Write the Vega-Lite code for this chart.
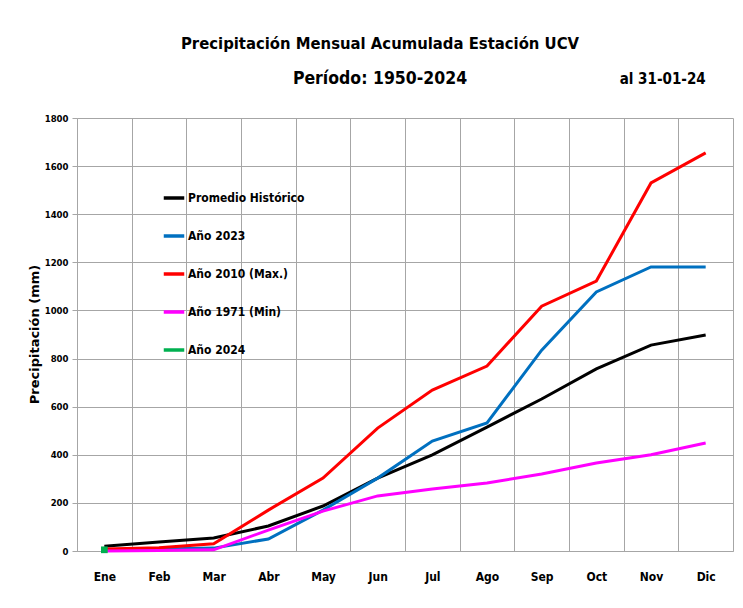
{
  "$schema": "https://vega.github.io/schema/vega-lite/v6.json",
  "width": 656,
  "height": 433,
  "autosize": {"type": "none"},
  "padding": {"left": 77, "top": 118, "right": 10, "bottom": 57},
  "background": "white",
  "title": {
    "text": "Precipitación Mensual Acumulada Estación UCV",
    "subtitle": "Período:  1950-2024",
    "font": "DejaVu Sans Condensed",
    "fontSize": 16.5,
    "fontWeight": "bold",
    "color": "black",
    "subtitleFont": "DejaVu Sans Condensed",
    "subtitleFontSize": 17.5,
    "subtitleFontWeight": "bold",
    "subtitleColor": "black",
    "subtitlePadding": 17,
    "anchor": "middle",
    "dx": -25,
    "offset": -15
  },
  "datasets": {
    "series": [
      {"mes": "Ene", "serie": "Promedio Histórico", "valor": 20},
      {"mes": "Feb", "serie": "Promedio Histórico", "valor": 37},
      {"mes": "Mar", "serie": "Promedio Histórico", "valor": 54},
      {"mes": "Abr", "serie": "Promedio Histórico", "valor": 104},
      {"mes": "May", "serie": "Promedio Histórico", "valor": 187},
      {"mes": "Jun", "serie": "Promedio Histórico", "valor": 303},
      {"mes": "Jul", "serie": "Promedio Histórico", "valor": 400},
      {"mes": "Ago", "serie": "Promedio Histórico", "valor": 515},
      {"mes": "Sep", "serie": "Promedio Histórico", "valor": 632},
      {"mes": "Oct", "serie": "Promedio Histórico", "valor": 757},
      {"mes": "Nov", "serie": "Promedio Histórico", "valor": 856},
      {"mes": "Dic", "serie": "Promedio Histórico", "valor": 898},
      {"mes": "Ene", "serie": "Año 2023", "valor": 5},
      {"mes": "Feb", "serie": "Año 2023", "valor": 8},
      {"mes": "Mar", "serie": "Año 2023", "valor": 12},
      {"mes": "Abr", "serie": "Año 2023", "valor": 50},
      {"mes": "May", "serie": "Año 2023", "valor": 170},
      {"mes": "Jun", "serie": "Año 2023", "valor": 303},
      {"mes": "Jul", "serie": "Año 2023", "valor": 457},
      {"mes": "Ago", "serie": "Año 2023", "valor": 532},
      {"mes": "Sep", "serie": "Año 2023", "valor": 835},
      {"mes": "Oct", "serie": "Año 2023", "valor": 1077},
      {"mes": "Nov", "serie": "Año 2023", "valor": 1181},
      {"mes": "Dic", "serie": "Año 2023", "valor": 1181},
      {"mes": "Ene", "serie": "Año 2010 (Max.)", "valor": 8},
      {"mes": "Feb", "serie": "Año 2010 (Max.)", "valor": 14},
      {"mes": "Mar", "serie": "Año 2010 (Max.)", "valor": 30},
      {"mes": "Abr", "serie": "Año 2010 (Max.)", "valor": 170},
      {"mes": "May", "serie": "Año 2010 (Max.)", "valor": 303},
      {"mes": "Jun", "serie": "Año 2010 (Max.)", "valor": 511},
      {"mes": "Jul", "serie": "Año 2010 (Max.)", "valor": 669},
      {"mes": "Ago", "serie": "Año 2010 (Max.)", "valor": 769},
      {"mes": "Sep", "serie": "Año 2010 (Max.)", "valor": 1018},
      {"mes": "Oct", "serie": "Año 2010 (Max.)", "valor": 1122},
      {"mes": "Nov", "serie": "Año 2010 (Max.)", "valor": 1530},
      {"mes": "Dic", "serie": "Año 2010 (Max.)", "valor": 1655},
      {"mes": "Ene", "serie": "Año 1971 (Min)", "valor": 0},
      {"mes": "Feb", "serie": "Año 1971 (Min)", "valor": 2},
      {"mes": "Mar", "serie": "Año 1971 (Min)", "valor": 5},
      {"mes": "Abr", "serie": "Año 1971 (Min)", "valor": 87},
      {"mes": "May", "serie": "Año 1971 (Min)", "valor": 166},
      {"mes": "Jun", "serie": "Año 1971 (Min)", "valor": 229},
      {"mes": "Jul", "serie": "Año 1971 (Min)", "valor": 258},
      {"mes": "Ago", "serie": "Año 1971 (Min)", "valor": 283},
      {"mes": "Sep", "serie": "Año 1971 (Min)", "valor": 320},
      {"mes": "Oct", "serie": "Año 1971 (Min)", "valor": 366},
      {"mes": "Nov", "serie": "Año 1971 (Min)", "valor": 400},
      {"mes": "Dic", "serie": "Año 1971 (Min)", "valor": 449},
      {"mes": "Ene", "serie": "Año 2024", "valor": 5}
    ],
    "nota": [
      {"mes": "Dic", "valor": 1940, "texto": "al 31-01-24"}
    ]
  },
  "config": {
    "view": {"stroke": null},
    "axis": {
      "labelFont": "DejaVu Sans Condensed",
      "labelFontWeight": "bold",
      "labelColor": "black",
      "gridColor": "#a6a6a6",
      "gridWidth": 1,
      "gridOpacity": 1,
      "domainColor": "#a6a6a6",
      "tickColor": "#a6a6a6"
    }
  },
  "layer": [
    {
      "data": {"name": "series"},
      "mark": {"type": "line", "strokeWidth": 3, "clip": false},
      "encoding": {
        "x": {
          "field": "mes",
          "type": "ordinal",
          "sort": ["Ene", "Feb", "Mar", "Abr", "May", "Jun", "Jul", "Ago", "Sep", "Oct", "Nov", "Dic"],
          "scale": {"type": "band", "paddingInner": 0, "paddingOuter": 0},
          "bandPosition": 0.5,
          "axis": {
            "title": null,
            "labelAngle": 0,
            "labelFontSize": 12,
            "labelPadding": 20,
            "tickBand": "extent",
            "ticks": false,
            "grid": true
          }
        },
        "y": {
          "field": "valor",
          "type": "quantitative",
          "scale": {"domain": [0, 1800], "nice": false, "zero": true},
          "axis": {
            "title": "Precipitación (mm)",
            "titleFont": "DejaVu Sans",
            "titleFontSize": 13,
            "titleFontWeight": "bold",
            "titleColor": "black",
            "titleX": -43,
            "titleY": 216,
            "titleBaseline": "middle",
            "titleAlign": "center",
            "titleAngle": -90,
            "values": [0, 200, 400, 600, 800, 1000, 1200, 1400, 1600, 1800],
            "format": "d",
            "labelFontSize": 9.5,
            "labelPadding": 4,
            "tickSize": 5,
            "grid": true
          }
        },
        "color": {
          "field": "serie",
          "type": "nominal",
          "scale": {
            "domain": ["Promedio Histórico", "Año 2023", "Año 2010 (Max.)", "Año 1971 (Min)", "Año 2024"],
            "range": ["#000000", "#0070C0", "#FF0000", "#FF00FF", "#00B050"]
          },
          "legend": {
            "title": null,
            "orient": "none",
            "legendX": 85,
            "legendY": 68,
            "symbolType": "stroke",
            "symbolStrokeWidth": 3.5,
            "symbolSize": 420,
            "labelFont": "DejaVu Sans Condensed",
            "labelFontWeight": "bold",
            "labelFontSize": 12,
            "labelColor": "black",
            "labelOffset": 2,
            "rowPadding": 19
          }
        }
      }
    },
    {
      "data": {"name": "series"},
      "transform": [{"filter": "datum.serie === 'Año 2024'"}],
      "mark": {"type": "point", "shape": "square", "filled": true, "size": 45, "color": "#00B050", "opacity": 1, "clip": false},
      "encoding": {
        "x": {"field": "mes", "type": "ordinal", "sort": ["Ene", "Feb", "Mar", "Abr", "May", "Jun", "Jul", "Ago", "Sep", "Oct", "Nov", "Dic"], "bandPosition": 0.5},
        "y": {"field": "valor", "type": "quantitative"}
      }
    },
    {
      "data": {"name": "nota"},
      "mark": {"type": "text", "align": "right", "baseline": "alphabetic", "font": "DejaVu Sans Condensed", "fontSize": 15, "fontWeight": "bold", "color": "black", "clip": false},
      "encoding": {
        "x": {"field": "mes", "type": "ordinal", "sort": ["Ene", "Feb", "Mar", "Abr", "May", "Jun", "Jul", "Ago", "Sep", "Oct", "Nov", "Dic"], "bandPosition": 0.5},
        "y": {"field": "valor", "type": "quantitative"},
        "text": {"field": "texto", "type": "nominal"}
      }
    }
  ]
}
